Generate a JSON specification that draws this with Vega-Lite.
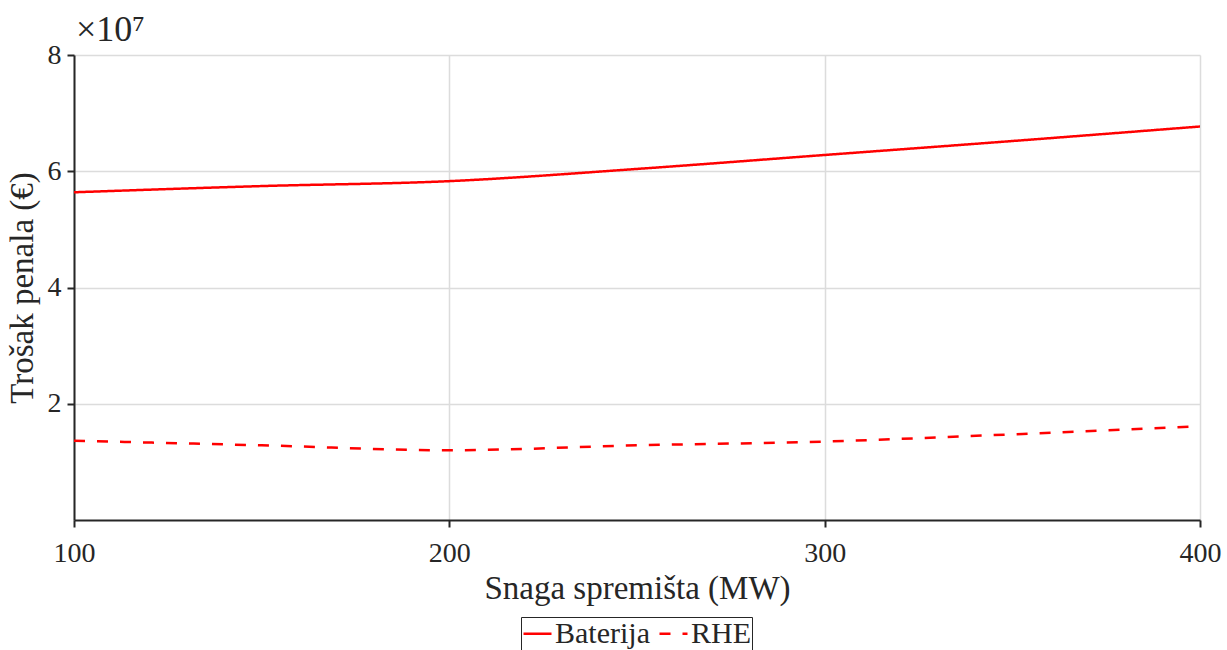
{
  "$schema": "https://vega.github.io/schema/vega-lite/v6.json",
  "autosize": {"type": "none"},
  "width": 1126,
  "height": 465,
  "padding": {"left": 74, "top": 55, "right": 27, "bottom": 130},
  "background": "white",
  "title": {
    "text": "×10⁷",
    "anchor": "start",
    "frame": "group",
    "font": "Liberation Serif",
    "fontSize": 36,
    "fontWeight": "normal",
    "color": "#262626",
    "dx": 2,
    "dy": 50,
    "offset": 6,
    "baseline": "bottom"
  },
  "data": {
    "values": [
      {"snaga": 100, "trosak": 56380000, "tip": "Baterija"},
      {"snaga": 150, "trosak": 57450000, "tip": "Baterija"},
      {"snaga": 200, "trosak": 58300000, "tip": "Baterija"},
      {"snaga": 250, "trosak": 60400000, "tip": "Baterija"},
      {"snaga": 300, "trosak": 62800000, "tip": "Baterija"},
      {"snaga": 350, "trosak": 65200000, "tip": "Baterija"},
      {"snaga": 400, "trosak": 67700000, "tip": "Baterija"},
      {"snaga": 100, "trosak": 13640000, "tip": "RHE"},
      {"snaga": 150, "trosak": 12850000, "tip": "RHE"},
      {"snaga": 200, "trosak": 12000000, "tip": "RHE"},
      {"snaga": 250, "trosak": 12850000, "tip": "RHE"},
      {"snaga": 300, "trosak": 13500000, "tip": "RHE"},
      {"snaga": 350, "trosak": 14740000, "tip": "RHE"},
      {"snaga": 400, "trosak": 16120000, "tip": "RHE"}
    ]
  },
  "mark": {"type": "line", "strokeWidth": 2.5, "interpolate": "monotone", "clip": true},
  "encoding": {
    "x": {
      "field": "snaga",
      "type": "quantitative",
      "scale": {"domain": [100, 400], "nice": false, "zero": false},
      "axis": {
        "title": "Snaga spremišta (MW)",
        "values": [100, 200, 300, 400],
        "format": "d",
        "labelFont": "Liberation Serif",
        "labelFontSize": 28,
        "labelColor": "#262626",
        "labelPadding": 12,
        "labelFlush": false,
        "titleFont": "Liberation Serif",
        "titleFontSize": 33,
        "titleFontWeight": "normal",
        "titleColor": "#262626",
        "titlePadding": 5,
        "domainColor": "#262626",
        "domainWidth": 2,
        "tickColor": "#262626",
        "tickWidth": 2,
        "tickSize": 7,
        "gridColor": "#dcdcdc",
        "gridWidth": 1.5
      }
    },
    "y": {
      "field": "trosak",
      "type": "quantitative",
      "scale": {"domain": [0, 80000000], "nice": false},
      "axis": {
        "title": "Trošak penala (€)",
        "values": [20000000, 40000000, 60000000, 80000000],
        "labelExpr": "format(datum.value / 10000000, 'd')",
        "labelFont": "Liberation Serif",
        "labelFontSize": 28,
        "labelColor": "#262626",
        "labelPadding": 6,
        "titleFont": "Liberation Serif",
        "titleFontSize": 33,
        "titleFontWeight": "normal",
        "titleColor": "#262626",
        "titlePadding": 8,
        "domainColor": "#262626",
        "domainWidth": 2,
        "tickColor": "#262626",
        "tickWidth": 2,
        "tickSize": 7,
        "gridColor": "#dcdcdc",
        "gridWidth": 1.5
      }
    },
    "color": {
      "field": "tip",
      "type": "nominal",
      "title": null,
      "scale": {"domain": ["Baterija", "RHE"], "range": ["#ff0000", "#ff0000"]},
      "legend": {
        "orient": "none",
        "legendX": 447,
        "legendY": 562,
        "direction": "horizontal",
        "symbolType": "stroke",
        "symbolSize": 784,
        "symbolStrokeWidth": 2.5,
        "labelFont": "Liberation Serif",
        "labelFontSize": 30,
        "labelColor": "#262626",
        "labelOffset": 2,
        "columnPadding": 4,
        "padding": 1,
        "strokeColor": "#262626",
        "fillColor": "white"
      }
    },
    "strokeDash": {
      "field": "tip",
      "type": "nominal",
      "title": null,
      "scale": {"domain": ["Baterija", "RHE"], "range": [[1, 0], [11, 12]]},
      "legend": {
        "orient": "none",
        "legendX": 447,
        "legendY": 562,
        "direction": "horizontal",
        "symbolType": "stroke",
        "symbolSize": 784,
        "symbolStrokeWidth": 2.5,
        "labelFont": "Liberation Serif",
        "labelFontSize": 30,
        "labelColor": "#262626",
        "labelOffset": 2,
        "columnPadding": 4,
        "padding": 1,
        "strokeColor": "#262626",
        "fillColor": "white"
      }
    }
  },
  "config": {
    "view": {"stroke": null}
  }
}
